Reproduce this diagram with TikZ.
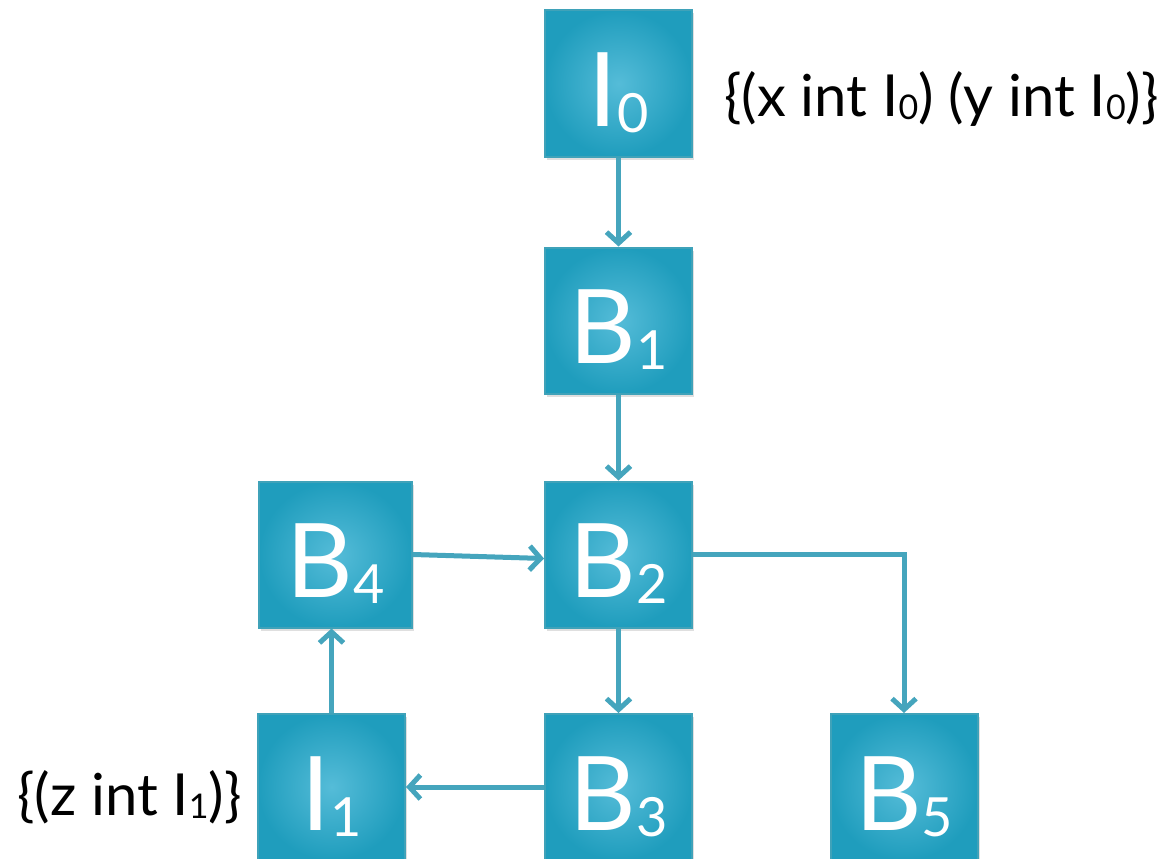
\documentclass[tikz,border=0pt]{standalone}
\usepackage{fontspec}
\setmainfont{Lato}
\usetikzlibrary{arrows.meta,shadows,positioning}
\definecolor{boxin}{HTML}{55BCD8}
\definecolor{boxout}{HTML}{1F9DBD}
\definecolor{boxline}{HTML}{3FA2B9}
\definecolor{arrowc}{HTML}{45A5BD}
\newcommand\boxsub[1]{\raisebox{-6pt}{\fontsize{54}{54}\selectfont #1}}
\newcommand\labsub[1]{\raisebox{-3pt}{\fontsize{34}{34}\selectfont #1}}
\tikzset{
  blk/.style={draw=boxline, line width=2pt, inner color=boxin, outer color=boxout,
    minimum width=147pt, minimum height=146pt, inner sep=0pt, text=white,
    text height=86pt, text depth=0pt,
    font=\fontsize{103}{103}\selectfont,
    drop shadow={opacity=0.25, shadow xshift=2pt, shadow yshift=-3pt}},
  conn/.style={draw=arrowc, line width=5pt,
    -{Straight Barb[length=11pt,width=24pt,line width=5pt]}},
  lab/.style={font=\fontsize{58}{58}\selectfont, text=black, inner sep=0pt}
}
\begin{document}
\begin{tikzpicture}[x=1pt,y=-1pt]
\useasboundingbox (0,0) rectangle (1171,859);
\node[blk] (I0) at (618.5,83.5) {I\boxsub{0}};
\node[blk] (B1) at (618.5,320.5) {B\boxsub{1}};
\node[blk] (B2) at (618.5,554.5) {B\boxsub{2}};
\node[blk, minimum width=153pt] (B4) at (335.5,554.5) {B\boxsub{4}};
\node[blk] (I1) at (331.5,787) {I\boxsub{1}};
\node[blk] (B3) at (618.5,787) {B\boxsub{3}};
\node[blk] (B5) at (904,787) {B\boxsub{5}};
\node[lab, anchor=base west] (L0) at (724,117) {\{(x int I\labsub{0}) (y int I\labsub{0})\}};
\node[lab, anchor=base west] (L1) at (17,815) {\{(z int I\labsub{1})\}};
\coordinate (corner) at (B5.north |- B2.east);
\draw[conn] (I0.south) -- (B1.north);
\draw[conn] (B1.south) -- (B2.north);
\draw[conn] (B4.east) -- ([yshift=-4pt]B2.west);
\draw[conn] (B2.south) -- (B3.north);
\draw[conn] (B3.west) -- (I1.east);
\draw[conn] (I1.north) -- (B4.south -| I1.north);
\draw[conn] (B2.east) -- (corner) -- (B5.north);
\end{tikzpicture}
\end{document}
